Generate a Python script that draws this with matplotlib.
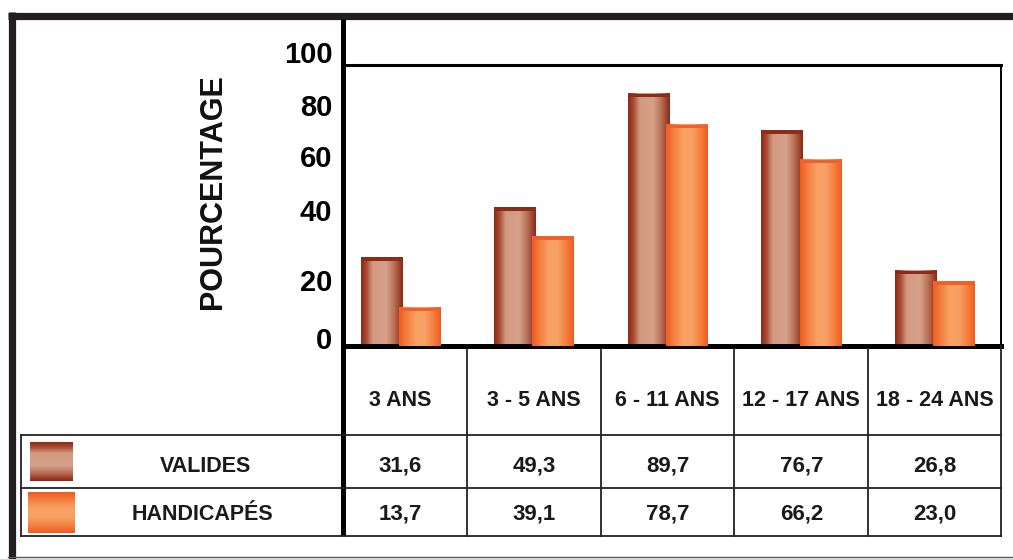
import numpy as np
import matplotlib.pyplot as plt
from matplotlib.colors import LinearSegmentedColormap
from matplotlib.transforms import blended_transform_factory
from matplotlib.patches import Rectangle

plt.rcParams['font.family'] = ['Liberation Sans', 'DejaVu Sans']
plt.rcParams['font.weight'] = 'bold'

categories = ["3 ANS", "3 - 5 ANS", "6 - 11 ANS", "12 - 17 ANS", "18 - 24 ANS"]
valides = [31.6, 49.3, 89.7, 76.7, 26.8]
handicapes = [13.7, 39.1, 78.7, 66.2, 23.0]
series_names = ["VALIDES", "HANDICAPÉS"]
ytick_labels = ["0", "20", "40", "60", "80", "100"]
# the original labels sit a little off the gridline values
ytick_pos = [1.8, 22.5, 47.5, 66.4, 84.6, 103.6]

cmap_val = LinearSegmentedColormap.from_list(
    "val", [(0, "#8e2a18"), (0.12, "#a8482f"), (0.28, "#d29a80"),
            (0.6, "#d6a189"), (0.8, "#b86e55"), (1, "#8b2716")])
cmap_hand = LinearSegmentedColormap.from_list(
    "hand", [(0, "#ef5a20"), (0.12, "#f27434"), (0.4, "#f8a264"),
             (0.62, "#f7a063"), (0.85, "#f47a3a"), (1, "#ef5c22")])

W, H = 1013, 559
fig = plt.figure(figsize=(W / 100, H / 100), dpi=100)

# main plot box
ax = fig.add_axes([343 / W, 1 - 346 / H, 658 / W, 281 / H])
x = np.arange(len(categories))
bw = 0.31
off = 0.143
grad = np.linspace(0, 1, 200).reshape(1, -1)


def gradient_bars(xpos, vals, cmap, cap, z):
    bars = ax.bar(xpos, vals, width=bw, color="none", zorder=z)
    for b in bars:
        x0, w, h = b.get_x(), b.get_width(), b.get_height()
        ax.imshow(grad, cmap=cmap, extent=[x0, x0 + w, 0, h], aspect="auto",
                  zorder=z, interpolation="bilinear")
        ax.add_patch(Rectangle((x0, h - 1.2), w, 1.2, color=cap, zorder=z + 0.1,
                               lw=0))


gradient_bars(x - off, valides, cmap_val, "#8e2a1a", 2)
gradient_bars(x + off, handicapes, cmap_hand, "#f0602a", 3)

ax.set_xlim(-0.43, 4.495)
ax.set_ylim(0, 100)
ax.set_xticks([])
ax.set_yticks([])
ax.spines["left"].set_visible(False)
ax.spines["top"].set_linewidth(2.2)
ax.spines["right"].set_linewidth(1.4)
ax.spines["bottom"].set_linewidth(3.6)
ax.patch.set_alpha(0)

# y labels, placed on the value scale but outside the box
for pos, lab in zip(ytick_pos, ytick_labels):
    ax.text(-0.016, pos, lab, transform=ax.get_yaxis_transform(), ha="right",
            va="center", fontsize=21, fontweight="bold", clip_on=False)

# overlay in pixel coordinates for the frame and the data table
ov = fig.add_axes([0, 0, 1, 1], zorder=5)
ov.set_xlim(0, W)
ov.set_ylim(H, 0)
ov.axis("off")
ov.patch.set_alpha(0)

ov.plot([8, W], [15.5, 15.5], color="#231f20", lw=5.2, solid_capstyle="butt")
ov.plot([11.5, 11.5], [12, H], color="#231f20", lw=5.2, solid_capstyle="butt")
ov.plot([8, W], [557, 557], color="#555555", lw=1.0)
ov.plot([342.5, 342.5], [19, 536], color="black", lw=3.6, solid_capstyle="butt")

for yy in [435, 488, 536]:
    ov.plot([21, 1001], [yy, yy], color="#222222", lw=1.3)
ov.plot([21, 21], [435, 536], color="#222222", lw=1.3)
ov.plot([1001, 1001], [346, 536], color="#222222", lw=1.3)

bt = blended_transform_factory(ax.transData, ov.transData)
for i in range(len(categories) - 1):
    ov.plot([i + 0.5, i + 0.5], [349, 536], color="#222222", lw=1.3,
            transform=bt)

for i, cat in enumerate(categories):
    ov.text(i, 401, cat, transform=bt, ha="center", va="center", fontsize=15.5,
            fontweight="bold", color="#1a1a1a")
    ov.text(i, 466, f"{valides[i]:.1f}".replace(".", ","), transform=bt,
            ha="center", va="center", fontsize=16, fontweight="bold",
            color="#1a1a1a")
    ov.text(i, 514, f"{handicapes[i]:.1f}".replace(".", ","), transform=bt,
            ha="center", va="center", fontsize=16, fontweight="bold",
            color="#1a1a1a")

# legend swatches with vertical gradient
vgrad = np.linspace(0, 1, 100).reshape(-1, 1)
ov.imshow(vgrad, cmap=cmap_val, extent=[30, 73, 481, 442], aspect="auto",
          interpolation="bilinear")
ov.imshow(vgrad, cmap=cmap_hand, extent=[28, 75, 533, 492], aspect="auto",
          interpolation="bilinear")
ov.set_xlim(0, W)
ov.set_ylim(H, 0)

ov.text(205, 466, series_names[0], ha="center", va="center", fontsize=15.5,
        fontweight="bold", color="#1a1a1a")
ov.text(202, 514, series_names[1], ha="center", va="center", fontsize=15.5,
        fontweight="bold", color="#1a1a1a")

ov.text(213, 192, "POURCENTAGE", rotation=90, ha="center", va="center",
        fontsize=22, fontweight="bold", color="#111111")

fig.savefig("out.png", dpi=100)
